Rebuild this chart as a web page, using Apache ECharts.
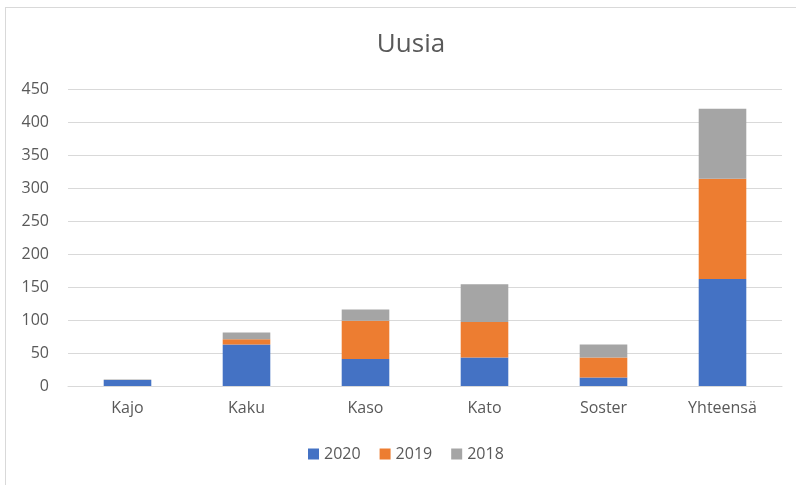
<!DOCTYPE html>
<html>
<head>
<meta charset="utf-8">
<script src="https://cdn.jsdelivr.net/npm/echarts@6/dist/echarts.min.js"></script>
<style>
  html, body { margin: 0; padding: 0; background: #fff; }
  #frame { position: absolute; left: 5px; top: 7px; width: 791px; height: 478px;
           border-left: 1px solid #d9d9d9; border-top: 1px solid #d9d9d9; }
  #chart { position: absolute; left: 0; top: 0; width: 796px; height: 485px; }
</style>
</head>
<body>
<div id="frame"></div>
<div id="chart"></div>
<script>
// values
const categories = ["Kajo", "Kaku", "Kaso", "Kato", "Soster", "Yhteensä"];
const years = ["2020", "2019", "2018"];
const v2020 = [9, 63, 41, 43, 13, 162];
const v2019 = [0, 8, 58, 54, 30, 152];
const v2018 = [1, 10, 17, 57, 20, 106];
const colors = ["#4472C4", "#ED7D31", "#A5A5A5"];

const seriesValues = [v2020, v2019, v2018];
const fontFam = "'Open Sans', sans-serif";

let myChart = echarts.init(document.getElementById("chart"));
const option = {
  animation: false,
  title: {
    text: "Uusia",
    left: 406,
    textAlign: "center",
    top: 27,
    textStyle: { color: "#595959", fontSize: 26, fontWeight: "normal", fontFamily: fontFam }
  },
  legend: {
    data: years,
    top: 441,
    left: 303,
    itemWidth: 11,
    itemHeight: 11,
    itemGap: 19,
    icon: "rect",
    textStyle: { color: "#595959", fontSize: 16, fontFamily: fontFam }
  },
  grid: { left: 68, right: 14, top: 89, bottom: 99 },
  xAxis: {
    type: "category",
    data: categories,
    axisLine: { lineStyle: { color: "#d9d9d9" } },
    axisTick: { show: false },
    axisLabel: { color: "#595959", fontSize: 16, margin: 14, fontFamily: fontFam }
  },
  yAxis: {
    type: "value",
    min: 0,
    max: 450,
    interval: 50,
    axisLine: { show: false },
    axisTick: { show: false },
    axisLabel: { color: "#595959", fontSize: 16, margin: 19, fontFamily: fontFam },
    splitLine: { lineStyle: { color: "#d9d9d9" } }
  },
  series: years.map((y, i) => ({
    name: y,
    type: "bar",
    stack: "total",
    barWidth: "40%",
    itemStyle: { color: colors[i] },
    data: seriesValues[i]
  }))
};
myChart.setOption(option);
</script>
</body>
</html>
